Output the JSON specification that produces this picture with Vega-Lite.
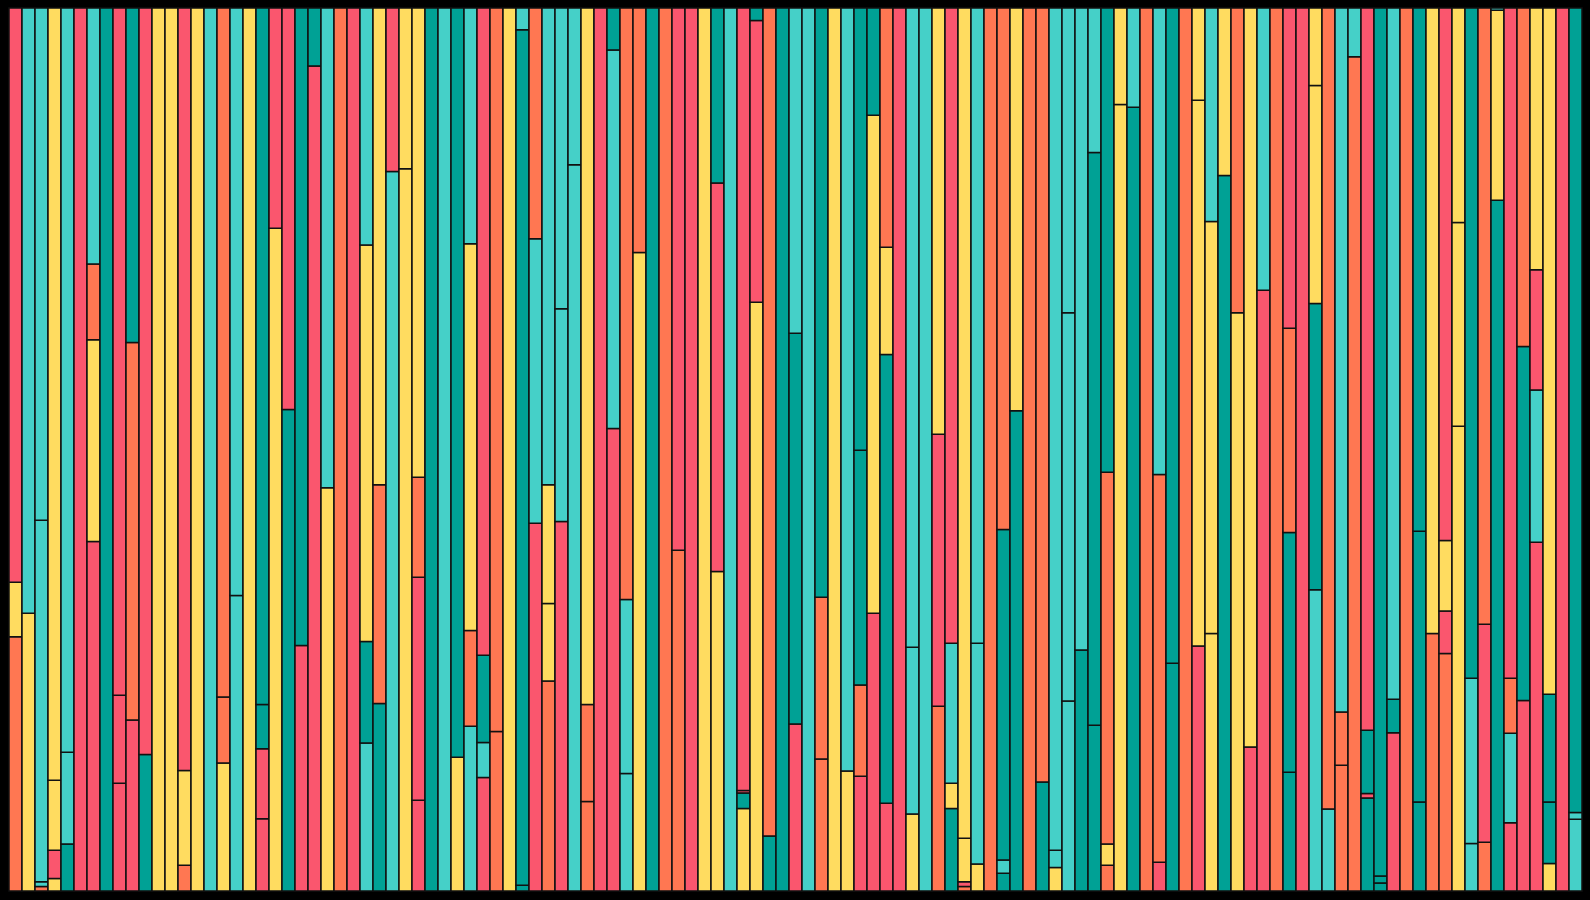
{
  "$schema": "https://vega.github.io/schema/vega-lite/v6.json",
  "width": 1573,
  "height": 883,
  "autosize": {"type": "none"},
  "padding": {"left": 9, "top": 8, "right": 8, "bottom": 9},
  "background": "#000000",
  "config": {"view": {"stroke": null}},
  "data": {"values": [
    {"b":0,"s":0,"c":"O","v":443},{"b":0,"s":1,"c":"Y","v":95},{"b":0,"s":2,"c":"R","v":1001},
    {"b":1,"s":0,"c":"Y","v":484},{"b":1,"s":1,"c":"L","v":1055},
    {"b":2,"s":0,"c":"O","v":8},{"b":2,"s":1,"c":"L","v":8},{"b":2,"s":2,"c":"L","v":630},{"b":2,"s":3,"c":"L","v":893},
    {"b":3,"s":0,"c":"Y","v":22},{"b":3,"s":1,"c":"R","v":49},{"b":3,"s":2,"c":"Y","v":122},{"b":3,"s":3,"c":"Y","v":1346},
    {"b":4,"s":0,"c":"D","v":82},{"b":4,"s":1,"c":"L","v":160},{"b":4,"s":2,"c":"L","v":1297},
    {"b":5,"s":0,"c":"R","v":1539},
    {"b":6,"s":0,"c":"R","v":609},{"b":6,"s":1,"c":"Y","v":352},{"b":6,"s":2,"c":"O","v":132},{"b":6,"s":3,"c":"L","v":446},
    {"b":7,"s":0,"c":"D","v":1539},
    {"b":8,"s":0,"c":"R","v":188},{"b":8,"s":1,"c":"R","v":153},{"b":8,"s":2,"c":"R","v":1198},
    {"b":9,"s":0,"c":"R","v":298},{"b":9,"s":1,"c":"O","v":658},{"b":9,"s":2,"c":"D","v":583},
    {"b":10,"s":0,"c":"D","v":238},{"b":10,"s":1,"c":"R","v":1301},
    {"b":11,"s":0,"c":"Y","v":1539},
    {"b":12,"s":0,"c":"Y","v":1539},
    {"b":13,"s":0,"c":"O","v":45},{"b":13,"s":1,"c":"Y","v":165},{"b":13,"s":2,"c":"R","v":1329},
    {"b":14,"s":0,"c":"Y","v":1539},
    {"b":15,"s":0,"c":"L","v":1539},
    {"b":16,"s":0,"c":"Y","v":223},{"b":16,"s":1,"c":"O","v":115},{"b":16,"s":2,"c":"O","v":1201},
    {"b":17,"s":0,"c":"L","v":515},{"b":17,"s":1,"c":"L","v":1024},
    {"b":18,"s":0,"c":"Y","v":1539},
    {"b":19,"s":0,"c":"R","v":126},{"b":19,"s":1,"c":"R","v":122},{"b":19,"s":2,"c":"D","v":77},{"b":19,"s":3,"c":"D","v":1214},
    {"b":20,"s":0,"c":"Y","v":1155},{"b":20,"s":1,"c":"R","v":384},
    {"b":21,"s":0,"c":"D","v":839},{"b":21,"s":1,"c":"R","v":700},
    {"b":22,"s":0,"c":"R","v":428},{"b":22,"s":1,"c":"D","v":1111},
    {"b":23,"s":0,"c":"R","v":1438},{"b":23,"s":1,"c":"D","v":101},
    {"b":24,"s":0,"c":"Y","v":703},{"b":24,"s":1,"c":"L","v":836},
    {"b":25,"s":0,"c":"O","v":1539},
    {"b":26,"s":0,"c":"R","v":1539},
    {"b":27,"s":0,"c":"L","v":258},{"b":27,"s":1,"c":"D","v":177},{"b":27,"s":2,"c":"Y","v":691},{"b":27,"s":3,"c":"L","v":413},
    {"b":28,"s":0,"c":"D","v":327},{"b":28,"s":1,"c":"O","v":381},{"b":28,"s":2,"c":"Y","v":831},
    {"b":29,"s":0,"c":"L","v":1254},{"b":29,"s":1,"c":"R","v":285},
    {"b":30,"s":0,"c":"Y","v":1259},{"b":30,"s":1,"c":"Y","v":280},
    {"b":31,"s":0,"c":"R","v":158},{"b":31,"s":1,"c":"R","v":389},{"b":31,"s":2,"c":"O","v":174},{"b":31,"s":3,"c":"Y","v":818},
    {"b":32,"s":0,"c":"D","v":1539},
    {"b":33,"s":0,"c":"L","v":1539},
    {"b":34,"s":0,"c":"Y","v":233},{"b":34,"s":1,"c":"D","v":1306},
    {"b":35,"s":0,"c":"L","v":287},{"b":35,"s":1,"c":"O","v":167},{"b":35,"s":2,"c":"Y","v":674},{"b":35,"s":3,"c":"L","v":411},
    {"b":36,"s":0,"c":"R","v":198},{"b":36,"s":1,"c":"L","v":61},{"b":36,"s":2,"c":"D","v":152},{"b":36,"s":3,"c":"R","v":1128},
    {"b":37,"s":0,"c":"O","v":278},{"b":37,"s":1,"c":"O","v":1261},
    {"b":38,"s":0,"c":"Y","v":1539},
    {"b":39,"s":0,"c":"D","v":10},{"b":39,"s":1,"c":"D","v":1491},{"b":39,"s":2,"c":"L","v":38},
    {"b":40,"s":0,"c":"R","v":641},{"b":40,"s":1,"c":"L","v":496},{"b":40,"s":2,"c":"O","v":402},
    {"b":41,"s":0,"c":"O","v":366},{"b":41,"s":1,"c":"Y","v":135},{"b":41,"s":2,"c":"Y","v":207},{"b":41,"s":3,"c":"L","v":831},
    {"b":42,"s":0,"c":"R","v":644},{"b":42,"s":1,"c":"L","v":371},{"b":42,"s":2,"c":"L","v":524},
    {"b":43,"s":0,"c":"L","v":1266},{"b":43,"s":1,"c":"L","v":273},
    {"b":44,"s":0,"c":"O","v":156},{"b":44,"s":1,"c":"O","v":169},{"b":44,"s":2,"c":"Y","v":1214},
    {"b":45,"s":0,"c":"R","v":1539},
    {"b":46,"s":0,"c":"R","v":806},{"b":46,"s":1,"c":"L","v":660},{"b":46,"s":2,"c":"D","v":73},
    {"b":47,"s":0,"c":"L","v":205},{"b":47,"s":1,"c":"L","v":303},{"b":47,"s":2,"c":"O","v":1031},
    {"b":48,"s":0,"c":"Y","v":1113},{"b":48,"s":1,"c":"O","v":426},
    {"b":49,"s":0,"c":"D","v":1539},
    {"b":50,"s":0,"c":"O","v":1539},
    {"b":51,"s":0,"c":"O","v":594},{"b":51,"s":1,"c":"R","v":945},
    {"b":52,"s":0,"c":"R","v":1539},
    {"b":53,"s":0,"c":"Y","v":1539},
    {"b":54,"s":0,"c":"Y","v":557},{"b":54,"s":1,"c":"R","v":677},{"b":54,"s":2,"c":"D","v":305},
    {"b":55,"s":0,"c":"L","v":1539},
    {"b":56,"s":0,"c":"Y","v":144},{"b":56,"s":1,"c":"D","v":27},{"b":56,"s":2,"c":"R","v":4},{"b":56,"s":3,"c":"R","v":1364},
    {"b":57,"s":0,"c":"Y","v":1026},{"b":57,"s":1,"c":"R","v":491},{"b":57,"s":2,"c":"D","v":22},
    {"b":58,"s":0,"c":"D","v":96},{"b":58,"s":1,"c":"O","v":1443},
    {"b":59,"s":0,"c":"D","v":1539},
    {"b":60,"s":0,"c":"R","v":291},{"b":60,"s":1,"c":"D","v":681},{"b":60,"s":2,"c":"L","v":567},
    {"b":61,"s":0,"c":"L","v":1539},
    {"b":62,"s":0,"c":"O","v":230},{"b":62,"s":1,"c":"O","v":282},{"b":62,"s":2,"c":"D","v":1027},
    {"b":63,"s":0,"c":"Y","v":1539},
    {"b":64,"s":0,"c":"Y","v":209},{"b":64,"s":1,"c":"L","v":1330},
    {"b":65,"s":0,"c":"R","v":200},{"b":65,"s":1,"c":"O","v":159},{"b":65,"s":2,"c":"D","v":409},{"b":65,"s":3,"c":"D","v":771},
    {"b":66,"s":0,"c":"R","v":484},{"b":66,"s":1,"c":"Y","v":868},{"b":66,"s":2,"c":"D","v":187},
    {"b":67,"s":0,"c":"R","v":153},{"b":67,"s":1,"c":"D","v":782},{"b":67,"s":2,"c":"Y","v":187},{"b":67,"s":3,"c":"O","v":417},
    {"b":68,"s":0,"c":"R","v":1539},
    {"b":69,"s":0,"c":"Y","v":134},{"b":69,"s":1,"c":"L","v":291},{"b":69,"s":2,"c":"L","v":1114},
    {"b":70,"s":0,"c":"L","v":1539},
    {"b":71,"s":0,"c":"O","v":322},{"b":71,"s":1,"c":"R","v":474},{"b":71,"s":2,"c":"Y","v":743},
    {"b":72,"s":0,"c":"D","v":144},{"b":72,"s":1,"c":"Y","v":44},{"b":72,"s":2,"c":"L","v":244},{"b":72,"s":3,"c":"R","v":1107},
    {"b":73,"s":0,"c":"O","v":8},{"b":73,"s":1,"c":"R","v":8},{"b":73,"s":2,"c":"Y","v":76},{"b":73,"s":3,"c":"Y","v":1447},
    {"b":74,"s":0,"c":"Y","v":47},{"b":74,"s":1,"c":"L","v":385},{"b":74,"s":2,"c":"L","v":1107},
    {"b":75,"s":0,"c":"O","v":1539},
    {"b":76,"s":0,"c":"D","v":31},{"b":76,"s":1,"c":"L","v":23},{"b":76,"s":2,"c":"D","v":576},{"b":76,"s":3,"c":"O","v":909},
    {"b":77,"s":0,"c":"D","v":837},{"b":77,"s":1,"c":"Y","v":702},
    {"b":78,"s":0,"c":"O","v":1539},
    {"b":79,"s":0,"c":"D","v":190},{"b":79,"s":1,"c":"O","v":1349},
    {"b":80,"s":0,"c":"Y","v":41},{"b":80,"s":1,"c":"L","v":30},{"b":80,"s":2,"c":"L","v":1468},
    {"b":81,"s":0,"c":"L","v":331},{"b":81,"s":1,"c":"L","v":677},{"b":81,"s":2,"c":"L","v":531},
    {"b":82,"s":0,"c":"D","v":420},{"b":82,"s":1,"c":"L","v":1119},
    {"b":83,"s":0,"c":"D","v":289},{"b":83,"s":1,"c":"D","v":998},{"b":83,"s":2,"c":"L","v":252},
    {"b":84,"s":0,"c":"O","v":45},{"b":84,"s":1,"c":"Y","v":37},{"b":84,"s":2,"c":"O","v":648},{"b":84,"s":3,"c":"D","v":809},
    {"b":85,"s":0,"c":"Y","v":1371},{"b":85,"s":1,"c":"Y","v":168},
    {"b":86,"s":0,"c":"D","v":1366},{"b":86,"s":1,"c":"L","v":173},
    {"b":87,"s":0,"c":"O","v":1539},
    {"b":88,"s":0,"c":"R","v":50},{"b":88,"s":1,"c":"O","v":676},{"b":88,"s":2,"c":"L","v":813},
    {"b":89,"s":0,"c":"D","v":397},{"b":89,"s":1,"c":"D","v":1142},
    {"b":90,"s":0,"c":"O","v":1539},
    {"b":91,"s":0,"c":"R","v":427},{"b":91,"s":1,"c":"Y","v":951},{"b":91,"s":2,"c":"Y","v":161},
    {"b":92,"s":0,"c":"Y","v":449},{"b":92,"s":1,"c":"Y","v":718},{"b":92,"s":2,"c":"L","v":372},
    {"b":93,"s":0,"c":"D","v":1247},{"b":93,"s":1,"c":"Y","v":292},
    {"b":94,"s":0,"c":"Y","v":1008},{"b":94,"s":1,"c":"O","v":531},
    {"b":95,"s":0,"c":"R","v":251},{"b":95,"s":1,"c":"Y","v":1288},
    {"b":96,"s":0,"c":"R","v":1047},{"b":96,"s":1,"c":"L","v":492},
    {"b":97,"s":0,"c":"O","v":1539},
    {"b":98,"s":0,"c":"D","v":207},{"b":98,"s":1,"c":"D","v":418},{"b":98,"s":2,"c":"O","v":356},{"b":98,"s":3,"c":"R","v":558},
    {"b":99,"s":0,"c":"R","v":1539},
    {"b":100,"s":0,"c":"L","v":525},{"b":100,"s":1,"c":"D","v":499},{"b":100,"s":2,"c":"Y","v":380},{"b":100,"s":3,"c":"Y","v":135},
    {"b":101,"s":0,"c":"L","v":143},{"b":101,"s":1,"c":"O","v":1396},
    {"b":102,"s":0,"c":"O","v":219},{"b":102,"s":1,"c":"O","v":93},{"b":102,"s":2,"c":"L","v":1227},
    {"b":103,"s":0,"c":"O","v":1454},{"b":103,"s":1,"c":"L","v":85},
    {"b":104,"s":0,"c":"D","v":162},{"b":104,"s":1,"c":"R","v":8},{"b":104,"s":2,"c":"D","v":110},{"b":104,"s":3,"c":"R","v":1259},
    {"b":105,"s":0,"c":"D","v":14},{"b":105,"s":1,"c":"D","v":12},{"b":105,"s":2,"c":"D","v":1513},
    {"b":106,"s":0,"c":"R","v":276},{"b":106,"s":1,"c":"D","v":58},{"b":106,"s":2,"c":"L","v":1205},
    {"b":107,"s":0,"c":"O","v":1539},
    {"b":108,"s":0,"c":"D","v":155},{"b":108,"s":1,"c":"D","v":472},{"b":108,"s":2,"c":"D","v":912},
    {"b":109,"s":0,"c":"O","v":449},{"b":109,"s":1,"c":"Y","v":1090},
    {"b":110,"s":0,"c":"O","v":414},{"b":110,"s":1,"c":"R","v":74},{"b":110,"s":2,"c":"Y","v":123},{"b":110,"s":3,"c":"R","v":928},
    {"b":111,"s":0,"c":"Y","v":810},{"b":111,"s":1,"c":"Y","v":355},{"b":111,"s":2,"c":"Y","v":374},
    {"b":112,"s":0,"c":"L","v":83},{"b":112,"s":1,"c":"L","v":288},{"b":112,"s":2,"c":"D","v":1168},
    {"b":113,"s":0,"c":"O","v":85},{"b":113,"s":1,"c":"R","v":380},{"b":113,"s":2,"c":"O","v":1074},
    {"b":114,"s":0,"c":"D","v":1204},{"b":114,"s":1,"c":"Y","v":331},{"b":114,"s":2,"c":"L","v":4},
    {"b":115,"s":0,"c":"R","v":119},{"b":115,"s":1,"c":"L","v":156},{"b":115,"s":2,"c":"O","v":96},{"b":115,"s":3,"c":"R","v":1168},
    {"b":116,"s":0,"c":"R","v":332},{"b":116,"s":1,"c":"D","v":617},{"b":116,"s":2,"c":"O","v":590},
    {"b":117,"s":0,"c":"R","v":608},{"b":117,"s":1,"c":"L","v":265},{"b":117,"s":2,"c":"R","v":210},{"b":117,"s":3,"c":"Y","v":456},
    {"b":118,"s":0,"c":"Y","v":48},{"b":118,"s":1,"c":"D","v":107},{"b":118,"s":2,"c":"D","v":188},{"b":118,"s":3,"c":"Y","v":1196},
    {"b":119,"s":0,"c":"R","v":1539},
    {"b":120,"s":0,"c":"L","v":125},{"b":120,"s":1,"c":"L","v":12},{"b":120,"s":2,"c":"D","v":1402}
  ]},
  "mark": {"type": "bar", "stroke": "#111111", "strokeWidth": 1.5},
  "encoding": {
    "x": {"field": "b", "type": "ordinal", "axis": null, "scale": {"paddingInner": 0, "paddingOuter": 0}},
    "y": {"field": "v", "type": "quantitative", "stack": "normalize", "axis": null, "scale": {"nice": false}},
    "color": {"field": "c", "type": "nominal", "legend": null,
      "scale": {"domain": ["R", "O", "Y", "L", "D"], "range": ["#FA566E", "#FF7752", "#FFDC60", "#45D0C8", "#00A195"]}},
    "order": {"field": "s", "type": "quantitative"}
  }
}
